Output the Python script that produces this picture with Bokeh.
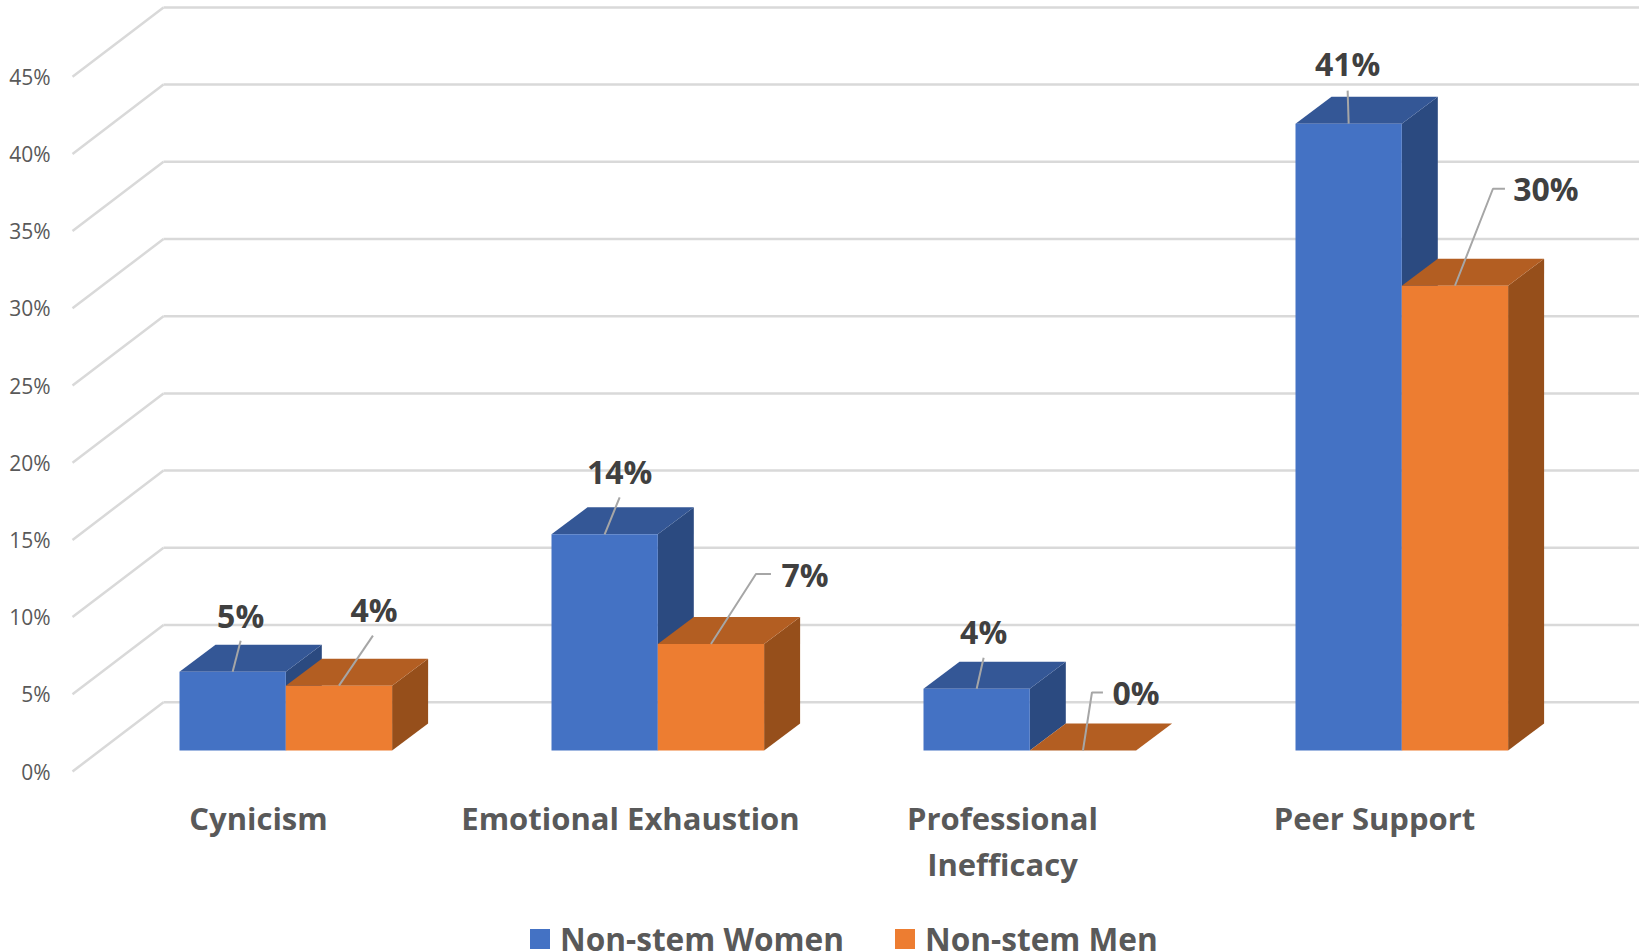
from bokeh.embed import file_html
from bokeh.resources import INLINE
from bokeh.plotting import figure
from bokeh.models import ColumnDataSource, Range1d, FixedTicker, Legend, LegendItem
from bokeh.core.properties import value

# ---- data
categories = ["Cynicism", "Emotional Exhaustion", "Professional\nInefficacy", "Peer Support"]
women = [5.1, 14.0, 4.0, 40.6]
men = [4.2, 6.9, 0.0, 30.1]
women_labels = ["5%", "14%", "4%", "41%"]
men_labels = ["4%", "7%", "0%", "30%"]
y_ticks = [0, 5, 10, 15, 20, 25, 30, 35, 40, 45]
y_tick_labels = ["0%", "5%", "10%", "15%", "20%", "25%", "30%", "35%", "40%", "45%"]

# ---- scale of the picture
PX_X = 372.0    # pixels per category
PX_Y = 15.44    # pixels per percentage point
FRAME_L, FRAME_B, W, H = 56, 952, 1639, 952
AXIS_PX = 780   # where the category axis runs
CAT0_PX, ZERO_PX = 258, 771

def dx(px): return px / PX_X
def dy(px): return px / PX_Y

WALL_X0 = dx(72 - CAT0_PX)
WALL_DX, WALL_DY = dx(91), dy(69.3)
BAR_LEFT = dx(179 - CAT0_PX)
BAR_W = dx(106.3)
BAR_BASE = dy(ZERO_PX - 750)
DEPTH_X, DEPTH_Y = dx(36), dy(27)

GRID = "#d9d9d9"
LEADER = "#a6a6a6"
FONT = value("Open Sans")

p = figure(width=W, height=H, output_backend="svg", toolbar_location=None,
           x_range=Range1d(dx(FRAME_L - CAT0_PX), dx(W - CAT0_PX)),
           y_range=Range1d(dy(ZERO_PX - FRAME_B), dy(ZERO_PX)),
           min_border_left=FRAME_L, min_border_right=0, min_border_top=0,
           min_border_bottom=0, margin=(0, 0, 0, 0))
p.outline_line_color = None
p.grid.visible = False
p.background_fill_color = "white"

# walls
p.segment([WALL_X0] * len(y_ticks), y_ticks,
          [WALL_X0 + WALL_DX] * len(y_ticks), [t + WALL_DY for t in y_ticks],
          line_color=GRID, line_width=2.5)
p.segment([WALL_X0 + WALL_DX] * len(y_ticks), [t + WALL_DY for t in y_ticks],
          [dx(W - CAT0_PX)] * len(y_ticks), [t + WALL_DY for t in y_ticks],
          line_color=GRID, line_width=2.5)

def draw_series(vals, shift, front, top, side):
    lefts = [i + BAR_LEFT + shift for i in range(len(vals))]
    rights = [l + BAR_W for l in lefts]
    tops = [BAR_BASE + v for v in vals]
    p.patches([[r, r + DEPTH_X, r + DEPTH_X, r] for r in rights],
              [[BAR_BASE, BAR_BASE + DEPTH_Y, t + DEPTH_Y, t] for t in tops],
              fill_color=side, line_color=None)
    p.patches([[l, l + DEPTH_X, r + DEPTH_X, r] for l, r in zip(lefts, rights)],
              [[t, t + DEPTH_Y, t + DEPTH_Y, t] for t in tops],
              fill_color=top, line_color=None)
    return p.quad(left=lefts, right=rights, bottom=[BAR_BASE] * len(vals), top=tops,
                  fill_color=front, line_color=None)

r_w = draw_series(women, 0.0, "#4472C4", "#345796", "#2B4A80")
r_m = draw_series(men, BAR_W, "#ED7D31", "#B35E22", "#964F1B")

# data labels with leader lines; offsets are pixels from the bar's top centre
women_leaders = [[(8, 31)], [(15, 37)], [(7, 31)], [(-1, 33)]]
men_leaders = [[(34, 50)], [(45, 70), (60, 70)], [(9, 58), (20, 58)], [(38, 97), (50, 97)]]
women_label_off = [(8, 56), (15, 63), (7, 57), (-1, 60)]
men_label_off = [(35, 76), (94, 69), (53, 58), (91, 97)]

def annotate(vals, shift, labels, leaders, offs):
    xs0 = [i + BAR_LEFT + shift + BAR_W / 2 for i in range(len(vals))]
    ys0 = [BAR_BASE + v for v in vals]
    p.multi_line([[x] + [x + dx(a) for a, _ in l] for x, l in zip(xs0, leaders)],
                 [[y] + [y + dy(b) for _, b in l] for y, l in zip(ys0, leaders)],
                 line_color=LEADER, line_width=2)
    src = ColumnDataSource(dict(x=xs0, y=ys0, t=labels,
                                xo=[o[0] for o in offs], yo=[-o[1] for o in offs]))
    p.text("x", "y", text="t", source=src, x_offset="xo", y_offset="yo",
           text_font=FONT, text_font_style="bold", text_font_size="32px",
           text_color="#404040", text_align="center", text_baseline="middle")

annotate(women, 0.0, women_labels, women_leaders, women_label_off)
annotate(men, BAR_W, men_labels, men_leaders, men_label_off)

# axes
ya = p.yaxis[0]
ya.ticker = FixedTicker(ticks=y_ticks)
ya.major_label_overrides = dict(zip(y_ticks, y_tick_labels))
ya.axis_line_color = None
ya.major_tick_line_color = None
ya.minor_tick_line_color = None
ya.major_tick_out = 0
ya.major_tick_in = 0
ya.major_label_standoff = 6
ya.major_label_text_font = "Open Sans"
ya.major_label_text_font_size = "21px"
ya.major_label_text_color = "#595959"

cat_ticks = list(range(len(categories)))
xa = p.xaxis[0]
xa.fixed_location = dy(ZERO_PX - AXIS_PX)
xa.ticker = FixedTicker(ticks=cat_ticks)
xa.major_label_overrides = dict(zip(cat_ticks, categories))
xa.axis_line_color = None
xa.major_tick_line_color = None
xa.minor_tick_line_color = None
xa.major_tick_out = 0
xa.major_tick_in = 0
xa.major_label_standoff = 16
xa.major_label_text_font = "Open Sans"
xa.major_label_text_font_style = "bold"
xa.major_label_text_font_size = "31px"
xa.major_label_text_color = "#595959"
xa.major_label_text_line_height = 1.1

# legend
legend = Legend(items=[LegendItem(label="Non-stem Women", renderers=[r_w]),
                       LegendItem(label="Non-stem Men", renderers=[r_m])],
                orientation="horizontal", location=(471, -8),
                glyph_width=25, glyph_height=25, label_standoff=8, spacing=48,
                padding=0, margin=0, border_line_color=None,
                background_fill_alpha=0,
                label_text_font="Open Sans", label_text_font_style="bold",
                label_text_font_size="31.6px", label_text_color="#595959")
p.add_layout(legend, "center")

open("out.html", "w").write(file_html(p, INLINE))
